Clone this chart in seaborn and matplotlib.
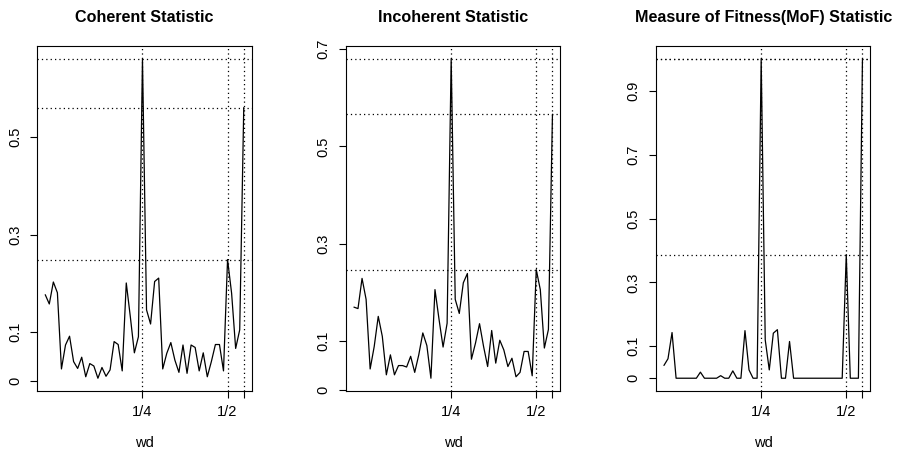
import numpy as np
import pandas as pd
import matplotlib
matplotlib.use("Agg")
import matplotlib.pyplot as plt
import seaborn as sns

# frequency grid (50 evenly spaced points, 1/4 at index 24, 1/2 at index 45)
wd = 0.25 + (np.arange(50) - 24) / 84

coherent = [0.177, 0.158, 0.203, 0.181, 0.025, 0.074, 0.092, 0.040, 0.026, 0.049,
            0.009, 0.036, 0.031, 0.006, 0.028, 0.010, 0.023, 0.081, 0.075, 0.021,
            0.201, 0.132, 0.058, 0.091, 0.660,
            0.146, 0.117, 0.204, 0.211, 0.025, 0.057, 0.079, 0.043, 0.018, 0.074,
            0.016, 0.074, 0.069, 0.021, 0.058, 0.009, 0.040, 0.075, 0.075, 0.021,
            0.249, 0.180, 0.067, 0.105, 0.560]

incoherent = [0.170, 0.167, 0.229, 0.186, 0.043, 0.089, 0.151, 0.110, 0.031, 0.072,
              0.031, 0.050, 0.050, 0.047, 0.069, 0.036, 0.072, 0.117, 0.091, 0.024,
              0.206, 0.145, 0.088, 0.137, 0.680,
              0.186, 0.157, 0.220, 0.239, 0.063, 0.096, 0.136, 0.089, 0.048, 0.122,
              0.055, 0.102, 0.082, 0.048, 0.065, 0.027, 0.036, 0.079, 0.079, 0.029,
              0.247, 0.206, 0.086, 0.124, 0.566]

mof = [0.040, 0.061, 0.143, 0, 0, 0, 0, 0, 0, 0.019,
       0, 0, 0, 0, 0.008, 0, 0, 0.023, 0, 0,
       0.149, 0.026, 0, 0, 1.0,
       0.120, 0.026, 0.141, 0.152, 0, 0, 0.115, 0, 0, 0,
       0, 0, 0, 0, 0, 0, 0, 0, 0, 0,
       0.387, 0, 0, 0, 1.0]

titles = ["Coherent Statistic", "Incoherent Statistic", "Measure of Fitness(MoF) Statistic"]
yticks = [[0, 0.1, 0.3, 0.5],
          [0, 0.1, 0.3, 0.5, 0.7],
          [0, 0.1, 0.3, 0.5, 0.7, 0.9]]
peak_idx = [24, 45, 49]
xtick_labels = ["1/4", "1/2", ""]

sns.set_style("white")
plt.rcParams["font.family"] = ["Liberation Sans", "DejaVu Sans"]
plt.rcParams["text.color"] = "black"
plt.rcParams["xtick.color"] = "black"
plt.rcParams["ytick.color"] = "black"
plt.rcParams["axes.labelcolor"] = "black"

W, H = 899, 455
fig = plt.figure(figsize=(W / 100, H / 100), dpi=100)
lefts = [37.3, 346, 656]
series = [coherent, incoherent, mof]

dot = (0, (1, 2.5))

for left, y, title, yt in zip(lefts, series, titles, yticks):
    ax = fig.add_axes([left / W, (H - 391) / H, 214.4 / W, 345 / H])
    df = pd.DataFrame({"wd": wd, "val": y})
    sns.lineplot(data=df, x="wd", y="val", ax=ax, color="black", lw=0.9)

    # dotted guides at the peaks
    for i in peak_idx:
        ax.axvline(wd[i], color="black", lw=0.9, ls=dot)
        ax.axhline(y[i], color="black", lw=0.9, ls=dot)

    xspan = wd[-1] - wd[0]
    ax.set_xlim(wd[0] - 0.04 * xspan, wd[-1] + 0.04 * xspan)
    yspan = max(y) - min(y)
    ax.set_ylim(min(y) - 0.04 * yspan, max(y) + 0.04 * yspan)

    ax.set_xticks([wd[i] for i in peak_idx])
    ax.set_xticklabels(xtick_labels)
    ax.set_yticks(yt)
    ax.set_yticklabels([f"{v:g}" for v in yt], rotation=90, va="center")
    ax.tick_params(direction="out", length=5, width=0.8, color="black",
                   labelcolor="black", labelsize=10.5, left=True, bottom=True)
    ax.tick_params(axis="y", pad=6)
    ax.tick_params(axis="x", pad=5)

    for s in ax.spines.values():
        s.set_color("black")
        s.set_linewidth(0.8)

    ax.set_xlabel("wd", fontsize=10.5, labelpad=12)
    ax.set_ylabel("")
    ax.set_title(title, fontsize=11.6, fontweight="bold", pad=17)

fig.savefig("out.png", dpi=100)
